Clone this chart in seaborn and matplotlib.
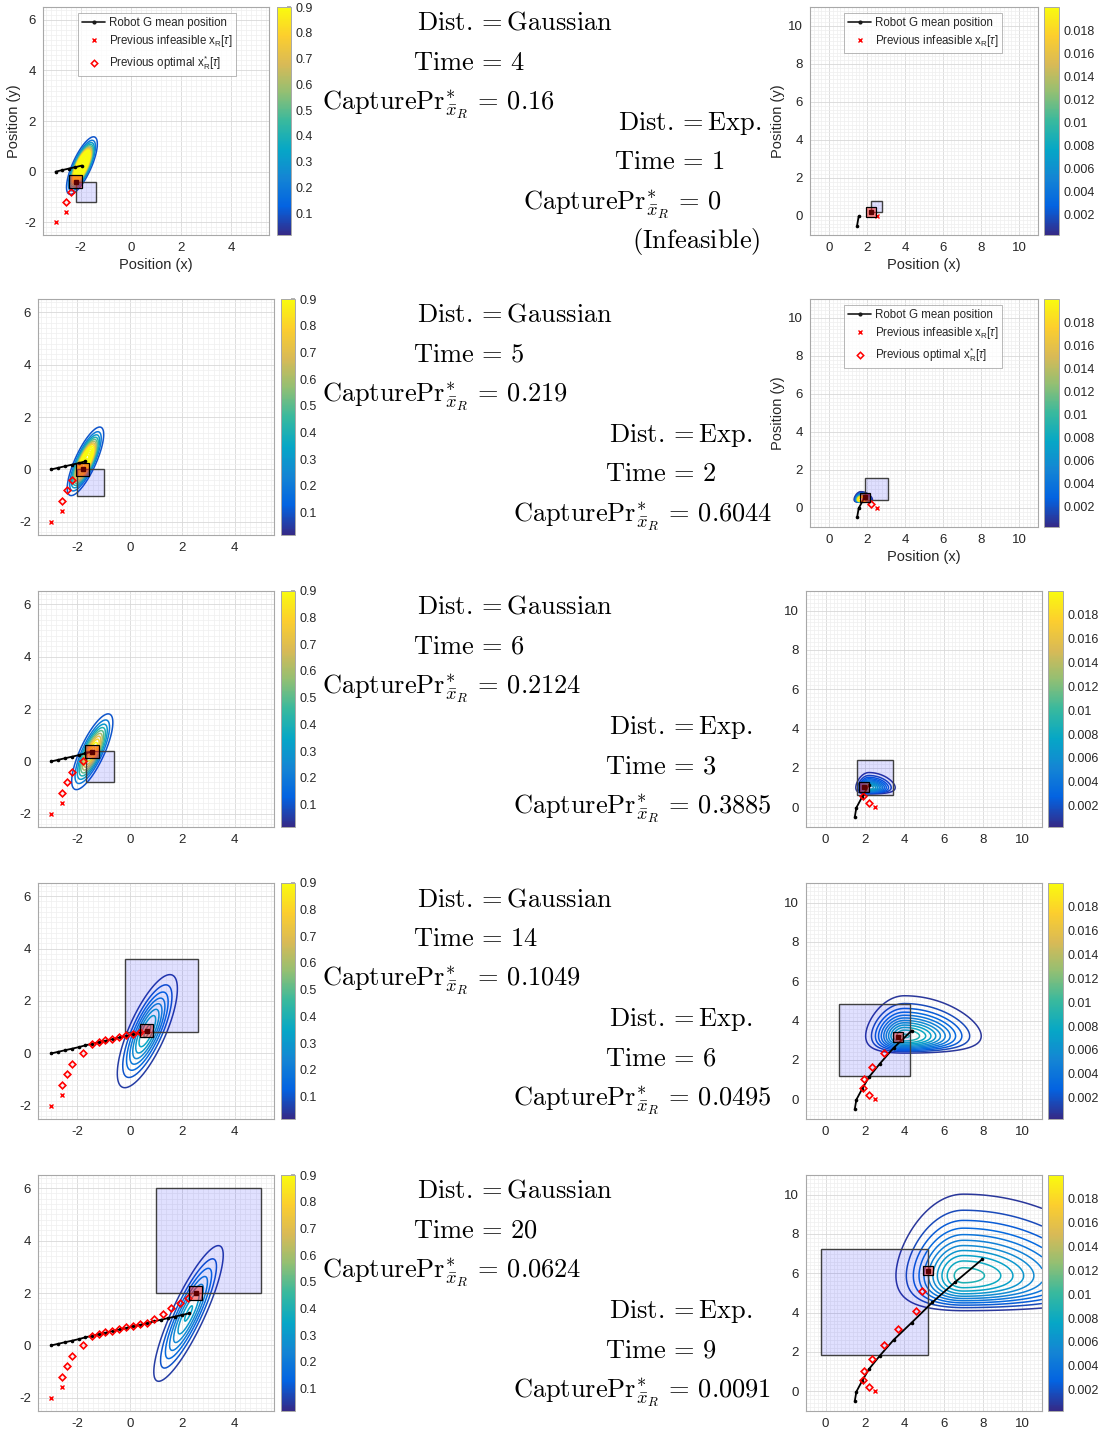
import numpy as np
import pandas as pd
import matplotlib
matplotlib.use('Agg')
import matplotlib.pyplot as plt
import seaborn as sns
from matplotlib.colors import LinearSegmentedColormap, Normalize
from matplotlib.cm import ScalarMappable
from matplotlib.patches import Rectangle
from matplotlib.lines import Line2D
from matplotlib.font_manager import FontProperties
from matplotlib.ticker import MultipleLocator

# ---------------- data ----------------
gauss_times = [4, 5, 6, 14, 20]
gauss_capture = ['0.16', '0.219', '0.2124', '0.1049', '0.0624']
exp_times = [1, 2, 3, 6, 9]
exp_capture = ['0', '0.6044', '0.3885', '0.0495', '0.0091']

# Gaussian robot mean path (tau = 0..20)
gauss_path_x = [-3.00, -2.74, -2.48, -2.21, -1.95, -1.69, -1.43, -1.17, -0.90, -0.64, -0.38,
                -0.12, 0.14, 0.41, 0.67, 0.93, 1.19, 1.45, 1.72, 1.98, 2.24]
gauss_path_y = [0.00, 0.06, 0.12, 0.18, 0.24, 0.31, 0.37, 0.43, 0.49, 0.55, 0.61,
                0.67, 0.73, 0.79, 0.85, 0.92, 0.98, 1.04, 1.10, 1.16, 1.22]
# Gaussian chosen robot positions (tau = 0..20)
gauss_opt_x = [-3.0, -2.6, -2.6, -2.4, -2.2, -1.8, -1.44, -1.18, -0.93, -0.67, -0.41,
               -0.15, 0.11, 0.38, 0.64, 0.93, 1.25, 1.58, 1.90, 2.22, 2.52]
gauss_opt_y = [-2.0, -1.6, -1.2, -0.8, -0.4, 0.0, 0.37, 0.43, 0.50, 0.56, 0.62,
               0.70, 0.76, 0.82, 0.87, 1.00, 1.21, 1.41, 1.61, 1.80, 2.00]
gauss_infeasible = [True, True] + [False] * 19
# capture regions (x0, y0, x1, y1)
gauss_regions = [(-2.2, -1.2, -1.4, -0.4), (-2.0, -1.0, -1.0, 0.0), (-1.68, -0.8, -0.6, 0.4),
                 (-0.2, 0.8, 2.6, 3.6), (1.0, 2.0, 5.0, 6.0)]
# Gaussian shape: sigma major, sigma minor, angle (deg)
gauss_sig_major = [0.50, 0.61, 0.73, 1.14, 1.43]
gauss_sig_minor = [0.15, 0.17, 0.21, 0.34, 0.31]
gauss_angle = [65.5, 65.4, 65.0, 66.0, 65.0]
gauss_level_step = [0.1, 0.1, 0.1, 0.05, 0.05]

# Exponential robot mean path (tau = 0..9)
exp_path_x = [1.48, 1.56, 1.86, 2.20, 2.76, 3.46, 4.38, 5.42, 6.60, 7.97]
exp_path_y = [-0.50, -0.02, 0.54, 1.13, 1.82, 2.62, 3.50, 4.52, 5.57, 6.72]
exp_opt_x = [2.50, 2.20, 1.90, 1.97, 2.34, 2.95, 3.69, 4.58, 4.88, 5.19]
exp_opt_y = [0.00, 0.21, 0.56, 1.04, 1.64, 2.35, 3.15, 4.06, 5.08, 6.14]
exp_infeasible = [True] + [False] * 9
exp_regions = [(2.2, 0.2, 2.8, 0.8), (1.9, 0.4, 3.1, 1.6), (1.57, 0.62, 3.4, 2.42),
               (0.7, 1.2, 4.3, 4.83), (-0.22, 1.83, 5.2, 7.24)]
# exp-like density: peak, x mode, left/right spread, y base, y scale
exp_peak = [None, 0.035, 0.0095, 0.0097, 0.0092]
exp_mx = [None, 1.68, 2.20, 4.00, 7.00]
exp_sl = [None, 0.13, 0.30, 0.88, 1.55]
exp_sr = [None, 0.22, 0.60, 1.75, 3.60]
exp_yb = [None, 0.28, 0.60, 2.14, 3.66]
exp_sy = [None, 0.055, 0.135, 0.36, 0.74]

# ---------------- style ----------------
sns.set_theme(style='white')
plt.rcParams['font.family'] = ['Liberation Sans', 'DejaVu Sans']
plt.rcParams['mathtext.fontset'] = 'cm'
plt.rcParams['mathtext.rm'] = 'Liberation Sans'
plt.rcParams['mathtext.it'] = 'Liberation Sans:italic'
plt.rcParams['mathtext.bf'] = 'Liberation Sans:bold'
plt.rcParams['mathtext.sf'] = 'Liberation Sans'
plt.rcParams['axes.unicode_minus'] = False

parula = LinearSegmentedColormap.from_list(
    'parula', ["#352a87", "#0363e1", "#1485d4", "#06a7c6", "#38b99e",
               "#92bf73", "#d9ba56", "#fcce2e", "#f9fb0e"])

W, H = 1105, 1433
fig = plt.figure(figsize=(W / 100, H / 100), dpi=100)


def px_axes(x0, y0, x1, y1):
    return fig.add_axes([x0 / W, 1 - y1 / H, (x1 - x0) / W, (y1 - y0) / H])


def gauss_pdf(X, Y, mx, my, s1, s2, ang):
    t = np.deg2rad(ang)
    dx, dy = X - mx, Y - my
    u = dx * np.cos(t) + dy * np.sin(t)
    v = -dx * np.sin(t) + dy * np.cos(t)
    return np.exp(-0.5 * ((u / s1) ** 2 + (v / s2) ** 2)) / (2 * np.pi * s1 * s2)


def exp_field(X, Y, P, mx, sl, sr, yb, sy, a=3.0):
    s = np.where(X < mx, sl, sr)
    gx = np.exp(-0.5 * ((X - mx) / s) ** 2)
    u = np.clip((Y - yb) / sy, 0, None)
    gy = (u / a) ** a * np.exp(a - u)
    return P * gx * gy


tick_col = '#262626'
spine_col = '#a8a8a8'


def style_axes(ax, xlim, ylim, ticks):
    ax.set_xlim(*xlim)
    ax.set_ylim(*ylim)
    ax.set_xticks(ticks[0])
    ax.set_yticks(ticks[1])
    ax.set_xticklabels([str(t) for t in ticks[0]])
    ax.set_yticklabels([str(t) for t in ticks[1]])
    ax.xaxis.set_minor_locator(MultipleLocator(0.2))
    ax.yaxis.set_minor_locator(MultipleLocator(0.2))
    ax.grid(True, which='minor', color='#efefef', lw=0.5)
    ax.grid(True, which='major', color='#d8d8d8', lw=0.6)
    ax.set_axisbelow(True)
    ax.tick_params(which='major', direction='in', length=3, color=spine_col,
                   labelsize=9.5, labelcolor=tick_col, pad=5)
    ax.tick_params(which='minor', length=0)
    for s in ax.spines.values():
        s.set_color(spine_col)
        s.set_linewidth(0.8)
    ax.set_xlabel('')
    ax.set_ylabel('')


def add_cbar(x0, y0, x1, y1, vmin, vmax, ticks, labels):
    cax = px_axes(x0, y0, x1, y1)
    cb = fig.colorbar(ScalarMappable(Normalize(vmin, vmax), parula), cax=cax)
    cb.set_ticks(ticks)
    cb.set_ticklabels(labels)
    cb.outline.set_edgecolor(spine_col)
    cb.outline.set_linewidth(0.7)
    cax.tick_params(direction='in', length=3, color=spine_col, labelsize=9,
                    labelcolor=tick_col, pad=3)
    return cb


leg_prop = FontProperties(family=['Liberation Sans'], size=8.3, math_fontfamily='custom')


def add_legend(ax, with_opt, anchor):
    handles = [Line2D([], [], color='k', marker='.', markersize=4, lw=1.2,
                      label='Robot G mean position'),
               Line2D([], [], color='red', marker='x', ls='none', markersize=3.5, mew=1,
                      label=r'Previous infeasible x$_{\mathrm{R}}$[$\tau$]')]
    if with_opt:
        handles.append(Line2D([], [], color='red', marker='D', mfc='none', ls='none',
                              markersize=3.3, mew=1.1,
                              label=r'Previous optimal x$^{*}_{\mathrm{R}}$[$\tau$]'))
    leg = ax.legend(handles=handles, loc='upper left', bbox_to_anchor=anchor,
                    prop=leg_prop, frameon=True, fancybox=False, borderpad=0.35,
                    labelspacing=0.38, handlelength=2.0, handletextpad=0.3,
                    borderaxespad=0)
    leg.get_frame().set_edgecolor('#999999')
    leg.get_frame().set_linewidth(0.6)
    leg.set_zorder(20)


def draw_common(ax, t, path_x, path_y, opt_x, opt_y, infeas, region, sq=0.5):
    # capture region
    x0, y0, x1, y1 = region
    ax.add_patch(Rectangle((x0, y0), x1 - x0, y1 - y0, facecolor=(0.0, 0.0, 1.0, 0.12),
                           edgecolor='#404040', lw=1.0, zorder=3))
    # mean path
    df = pd.DataFrame({'x': path_x[:t + 1], 'y': path_y[:t + 1]})
    sns.lineplot(data=df, x='x', y='y', sort=False, estimator=None, color='black', lw=1.3,
                 marker='o', markersize=2.6, markeredgewidth=0, ax=ax, legend=False, zorder=5)
    # previous robot positions
    for k in range(t):
        if infeas[k]:
            ax.plot(opt_x[k], opt_y[k], marker='x', color='red', ms=3.2, mew=1.0, ls='none', zorder=6)
        else:
            ax.plot(opt_x[k], opt_y[k], marker='D', mfc='none', mec='red', ms=3.4, mew=1.2,
                    ls='none', zorder=6)
    # current robot position
    cx, cy = opt_x[t], opt_y[t]
    ax.add_patch(Rectangle((cx - sq / 2, cy - sq / 2), sq, sq, facecolor=(1.0, 0.15, 0.15, 0.5),
                           edgecolor='black', lw=0.9, zorder=7))
    ax.plot(cx, cy, marker='s', color='#5a0000', ms=2.5, ls='none', zorder=8)


# ---------------- left (Gaussian) panels ----------------
row_top = [7, 299, 591, 883, 1175]
gxs = np.linspace(-3.5, 5.5, 500)
gys = np.linspace(-2.5, 6.5, 500)
GX, GY = np.meshgrid(gxs, gys)
for i, t in enumerate(gauss_times):
    top = row_top[i]
    if i == 0:
        ax = px_axes(43, 7, 269, 235)
        cb_box = (277, 7, 291, 235)
    else:
        ax = px_axes(38, top, 274, top + 236)
        cb_box = (281, top, 295, top + 236)
    Z = gauss_pdf(GX, GY, gauss_path_x[t], gauss_path_y[t], gauss_sig_major[i],
                  gauss_sig_minor[i], gauss_angle[i])
    step = gauss_level_step[i]
    levels = np.arange(step, Z.max(), step)
    ax.contour(GX, GY, Z, levels=levels, cmap=parula, vmin=0.015, vmax=0.9,
               linewidths=1.1, zorder=2)
    draw_common(ax, t, gauss_path_x, gauss_path_y, gauss_opt_x, gauss_opt_y,
                gauss_infeasible, gauss_regions[i])
    style_axes(ax, (-3.5, 5.5), (-2.5, 6.5), ([-2, 0, 2, 4], [-2, 0, 2, 4, 6]))
    if i == 0:
        ax.set_xlabel('Position (x)', fontsize=10.5, color=tick_col, labelpad=3)
        ax.set_ylabel('Position (y)', fontsize=10.5, color=tick_col, labelpad=2)
        add_legend(ax, True, (0.155, 0.975))
    add_cbar(*cb_box, 0.015, 0.9, [0.1, 0.2, 0.3, 0.4, 0.5, 0.6, 0.7, 0.8, 0.9],
             ['0.1', '0.2', '0.3', '0.4', '0.5', '0.6', '0.7', '0.8', '0.9'])

# ---------------- right (Exp.) panels ----------------
ex = np.linspace(-1, 11, 800)
EX, EY = np.meshgrid(ex, ex)
exp_levels = np.arange(0.0008, 0.0201, 0.0008)
for i, t in enumerate(exp_times):
    top = row_top[i]
    if i < 2:
        h = 228
        ax = px_axes(810, top, 1038, top + h)
        cb_box = (1044, top, 1059, top + h)
    else:
        ax = px_axes(806, top, 1042, top + 236)
        cb_box = (1048, top, 1063, top + 236)
    if exp_peak[i] is not None:
        Z = exp_field(EX, EY, exp_peak[i], exp_mx[i], exp_sl[i], exp_sr[i], exp_yb[i], exp_sy[i])
        lv = exp_levels[exp_levels < Z.max()]
        ax.contour(EX, EY, Z, levels=lv, cmap=parula, vmin=0.0002, vmax=0.02,
                   linewidths=1.1, zorder=2)
    draw_common(ax, t, exp_path_x, exp_path_y, exp_opt_x, exp_opt_y, exp_infeasible,
                exp_regions[i])
    style_axes(ax, (-1, 11), (-1, 11), ([0, 2, 4, 6, 8, 10], [0, 2, 4, 6, 8, 10]))
    if i < 2:
        ax.set_xlabel('Position (x)', fontsize=10.5, color=tick_col, labelpad=3)
        ax.set_ylabel('Position (y)', fontsize=10.5, color=tick_col, labelpad=2)
        add_legend(ax, i == 1, (0.149, 0.975))
    add_cbar(*cb_box, 0.0002, 0.02,
             [0.002, 0.004, 0.006, 0.008, 0.01, 0.012, 0.014, 0.016, 0.018],
             ['0.002', '0.004', '0.006', '0.008', '0.01', '0.012', '0.014', '0.016', '0.018'])

# ---------------- annotation texts ----------------
FS = 19


def ftext(x, y, s):
    fig.text(x / W, 1 - y / H, s, ha='left', va='baseline', fontsize=FS,
             math_fontfamily='cm', color='black')


for i, t in enumerate(gauss_times):
    b = 30 + 292 * i
    ftext(417, b, r'$\mathrm{Dist.} = \mathrm{Gaussian}$')
    ftext(413, b + 39.5, r'$\mathrm{Time}\,=\,%d$' % t)
    ftext(322, b + 79, r'$\mathrm{CapturePr}^{*}_{\bar{x}_R}\,=\,%s$' % gauss_capture[i])

for i, t in enumerate(exp_times):
    if i == 0:
        ftext(618, 130, r'$\mathrm{Dist.} = \mathrm{Exp.}$')
        ftext(614, 169, r'$\mathrm{Time}\,=\,%d$' % t)
        ftext(523, 209, r'$\mathrm{CapturePr}^{*}_{\bar{x}_R}\,=\,%s$' % exp_capture[i])
        ftext(632, 248, r'$\mathrm{(Infeasible)}$')
    else:
        b = 442 + 292 * (i - 1)
        ftext(609, b, r'$\mathrm{Dist.} = \mathrm{Exp.}$')
        ftext(605, b + 39.5, r'$\mathrm{Time}\,=\,%d$' % t)
        ftext(513, b + 79, r'$\mathrm{CapturePr}^{*}_{\bar{x}_R}\,=\,%s$' % exp_capture[i])

fig.savefig('out.png', dpi=100)
